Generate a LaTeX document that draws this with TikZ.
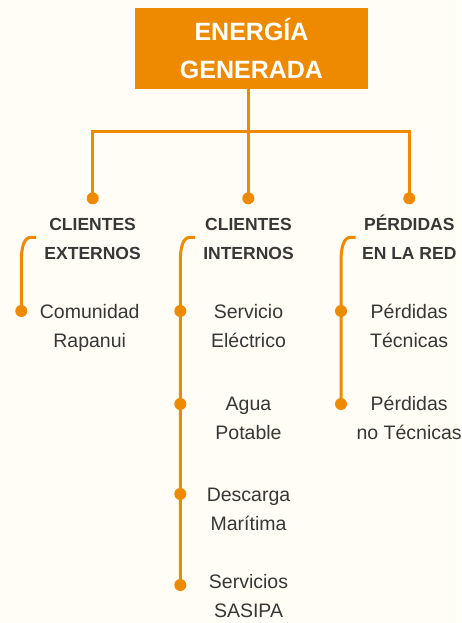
\documentclass[tikz,border=0pt]{standalone}
\usepackage{fontspec}
\setmainfont{Liberation Sans}
\usetikzlibrary{positioning}
\definecolor{naranja}{RGB}{238,138,0}
\definecolor{crema}{RGB}{255,253,245}
\definecolor{texto}{RGB}{55,55,55}

\begin{document}
\begin{tikzpicture}[x=1pt,y=-1pt,
  titulo/.style={fill=naranja, text=white, font=\fontsize{25}{37.6}\selectfont\bfseries, align=center, minimum width=233pt, minimum height=81pt, inner sep=0pt},
  cabeza/.style={text=texto, font=\fontsize{17.5}{28.6}\selectfont\bfseries, align=center, inner sep=0pt, anchor=base},
  item/.style={text=texto, font=\fontsize{19.5}{29}\selectfont, align=center, inner sep=0pt, anchor=base},
  punto/.style={circle, fill=naranja, inner sep=0pt, minimum size=12pt},
  linea/.style={draw=naranja, line width=3pt},
]
%background, sets the size of the picture
\fill[crema] (0,0) rectangle (461,623);
\useasboundingbox (0,0) rectangle (461,623);

%Title box
\node[titulo] (energia) at (251.5,48.4) {ENERGÍA\\GENERADA};

%Dots under the title
\coordinate (barra) at (248.3,131);
\node[punto] (pA) at (92.7,198.3) {};
\node[punto] (pB) at (248.3,198.3) {};
\node[punto] (pC) at (409.3,198.3) {};

%Dots of the items
\node[punto] (dA1) at (21.3,311) {};
\node[punto] (dB1) at (180.3,311) {};
\node[punto] (dB2) at (180.3,404) {};
\node[punto] (dB3) at (180.3,494) {};
\node[punto] (dB4) at (180.3,585) {};
\node[punto] (dC1) at (341,311) {};
\node[punto] (dC2) at (341,404) {};

%Tree lines
\draw[linea] (energia.south -| pB) -- (pB.center);
\draw[linea] (pA.center) |- (barra) -| (pC.center);

%Brackets
\coordinate (bA) at (36,237.3);
\coordinate (bB) at (195,237.3);
\coordinate (bC) at (355.7,237.3);
\draw[linea] (bA) -- ++(-5,0) .. controls +(-7,0) and +(0,-14) .. ++(-9.7,24) -- (dA1.center);
\draw[linea] (bB) -- ++(-5,0) .. controls +(-7,0) and +(0,-14) .. ++(-9.7,24) -- (dB4.center);
\draw[linea] (bC) -- ++(-5,0) .. controls +(-7,0) and +(0,-14) .. ++(-9.7,24) -- (dC2.center);

% Text Node (base = last line)
\node[cabeza] (hA) at (92.6,259.3) {CLIENTES\\EXTERNOS};
\node[cabeza] (hB) at (248.5,259.3) {CLIENTES\\INTERNOS};
\node[cabeza] (hC) at (409.3,259.3) {PÉRDIDAS\\EN LA RED};

% Text Node
\node[item] (iA1) at (89.7,347.5) {Comunidad\\Rapanui};
\node[item] (iB1) at (248.5,347.5) {Servicio\\Eléctrico};
\node[item] (iB2) at (248.5,439) {Agua\\Potable};
\node[item] (iB3) at (248.5,530.5) {Descarga\\Marítima};
\node[item] (iB4) at (248.5,617.5) {Servicios\\SASIPA};
\node[item] (iC1) at (409.2,347.5) {Pérdidas\\Técnicas};
\node[item] (iC2) at (409.2,439) {Pérdidas\\no Técnicas};
\end{tikzpicture}
\end{document}
